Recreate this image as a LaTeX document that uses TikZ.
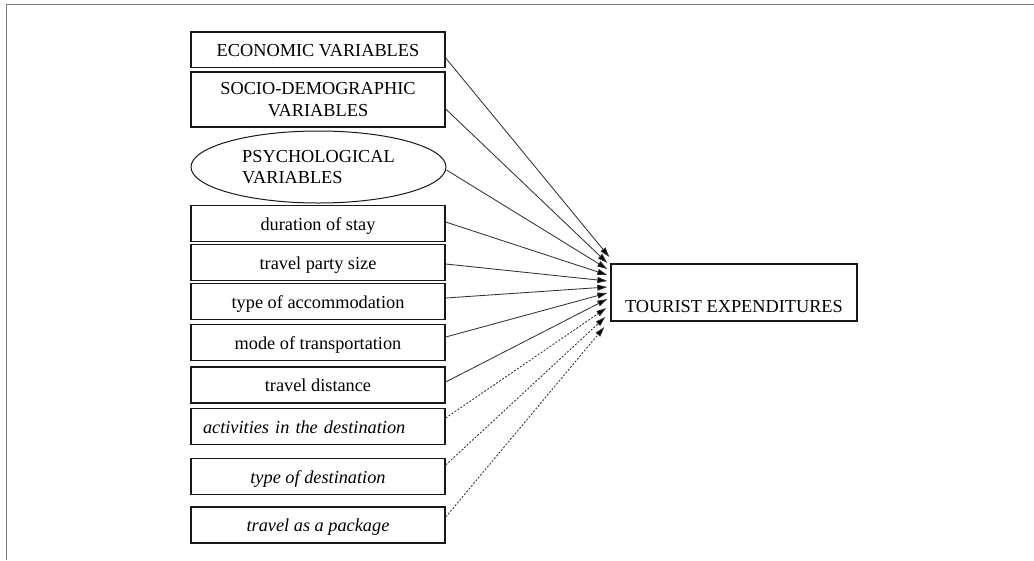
\documentclass[tikz,border=0pt]{standalone}
\usepackage{fontspec}
\setmainfont{Liberation Serif}
\usetikzlibrary{arrows.meta,shapes.geometric}
\definecolor{framegray}{RGB}{125,125,125}
\definecolor{boxline}{RGB}{25,25,25}
\definecolor{conline}{RGB}{50,50,50}
\newcommand{\fsz}{\fontsize{18.3}{21.8}\selectfont}
\tikzset{
  varbox/.style={draw=boxline, line width=1.4, minimum width=254, minimum height=35.5, inner sep=0, font=\fsz, text height=14.5, text depth=1},
  twobox/.style={draw=boxline, line width=1.4, minimum width=254, minimum height=55, inner sep=0, font=\fsz, align=center},
  ovalbox/.style={draw=boxline, line width=1.0, ellipse, minimum width=255, minimum height=72, inner sep=0, font=\fsz, align=left},
  itbox/.style={varbox, font=\fsz\itshape},
  targetbox/.style={draw=boxline, line width=1.4, minimum width=246, minimum height=57, inner sep=0, font=\fsz, text height=40, text depth=1},
  link/.style={draw=conline, line width=0.85, -{Triangle[length=10,width=6,fill=black]}},
  dlink/.style={link, dash pattern=on 2pt off 1.6pt},
  frameline/.style={draw=framegray, line width=1.6}
}
\begin{document}
\begin{tikzpicture}[x=1pt,y=-1pt]
\useasboundingbox (0,0) rectangle (1034,560);
\coordinate (f1) at (1034,4.5);
\coordinate (f2) at (6.5,4.5);
\coordinate (f3) at (6.5,560);
\draw[frameline] (f1) -- (f2) -- (f3);

\node[varbox] (eco) at (318,49.75) {ECONOMIC VARIABLES};
\node[twobox] (soc) at (318,99.5) {SOCIO-DEMOGRAPHIC\\VARIABLES};
\node[ovalbox] (psy) at (318.5,167) {PSYCHOLOGICAL\\VARIABLES};
\node[varbox] (dur) at (318,223.5) {duration of stay};
\node[varbox] (par) at (318,262.5) {travel party size};
\node[varbox] (acc) at (318,301.5) {type of accommodation};
\node[varbox] (mod) at (318,342.5) {mode of transportation};
\node[varbox, minimum height=36] (dis) at (318,385) {travel distance};
\node[itbox, text width=230, align=left, inner xsep=12] (act) at (318,426.5) {activities in the destination};
\node[itbox] (typ) at (318,476.5) {type of destination};
\node[itbox, minimum height=36] (pkg) at (318,525) {travel as a package};

\node[targetbox] (te) at (734,292.5) {TOURIST EXPENDITURES};

\draw[link] ([yshift=-8.25]eco.east) -- ([xshift=-1,yshift=35.5]te.west);
\draw[link] ([yshift=-9.5]soc.east) -- ([xshift=-3,yshift=29.5]te.west);
\draw[link] ([yshift=-3]psy.east) -- ([xshift=-3,yshift=23.5]te.west);
\draw[link] ([yshift=1.5]dur.east) -- ([xshift=-3,yshift=17.5]te.west);
\draw[link] ([yshift=-1.5]par.east) -- ([xshift=-3,yshift=11.5]te.west);
\draw[link] ([yshift=3.5]acc.east) -- ([xshift=-3,yshift=5.5]te.west);
\draw[link] ([yshift=5.5]mod.east) -- ([xshift=-3,yshift=-0.5]te.west);
\draw[link] ([yshift=3]dis.east) -- ([xshift=-3,yshift=-6.5]te.west);
\draw[dlink] ([yshift=8.5]act.east) -- ([xshift=-4,yshift=-15.5]te.west);
\draw[dlink] ([yshift=11.5]typ.east) -- ([xshift=-5,yshift=-24.5]te.west);
\draw[dlink] ([yshift=8]pkg.east) -- ([xshift=-6,yshift=-34.5]te.west);
\end{tikzpicture}
\end{document}
